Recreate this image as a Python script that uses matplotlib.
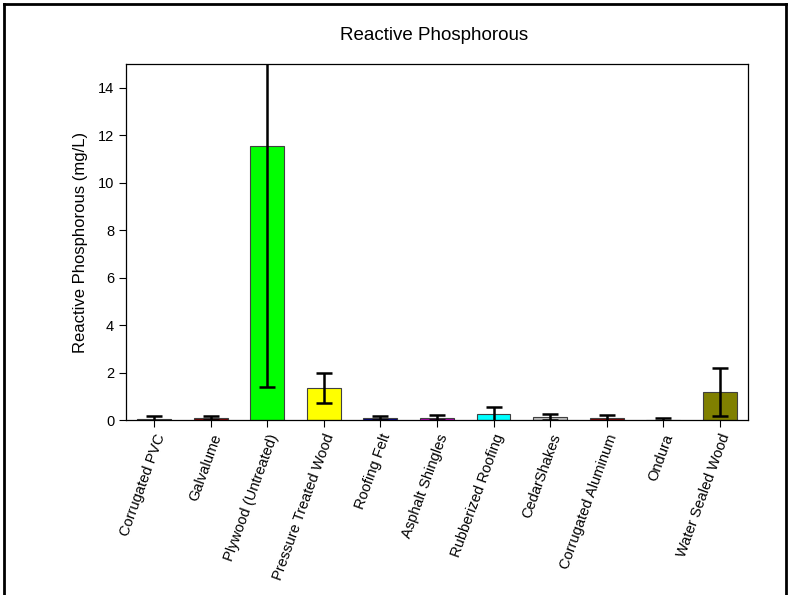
import numpy as np
import matplotlib.pyplot as plt
from matplotlib.lines import Line2D

plt.rcParams['font.family'] = ['Liberation Sans', 'DejaVu Sans']

materials = ["Corrugated PVC", "Galvalume", "Plywood (Untreated)", "Pressure Treated Wood",
             "Roofing Felt", "Asphalt Shingles", "Rubberized Roofing", "CedarShakes",
             "Corrugated Aluminum", "Ondura", "Water Sealed Wood"]
mean_p = [0.04, 0.08, 11.55, 1.35, 0.07, 0.10, 0.25, 0.14, 0.07, 0.02, 1.19]
sd_p = [0.11, 0.07, 10.15, 0.62, 0.08, 0.10, 0.31, 0.13, 0.13, 0.05, 1.00]
bar_colors = ["#000000", "#800000", "#00ff00", "#ffff00", "#000080", "#c000c0",
              "#00ffff", "#c0c0c0", "#800000", "#000000", "#808000"]

fig = plt.figure(figsize=(7.9, 5.95), dpi=100)
ax = fig.add_axes([0.1595, 0.2941, 0.7873, 0.5983])

x = np.arange(len(materials))
ax.bar(x, mean_p, width=0.6, color=bar_colors, edgecolor='#404040', linewidth=0.8, zorder=2)
ax.errorbar(x, mean_p, yerr=sd_p, fmt='none', ecolor='black', elinewidth=1.8,
            capsize=6, capthick=1.8, zorder=3)

ax.set_xlim(-0.5, len(materials) - 0.5)
ax.set_ylim(0, 15)
ax.set_yticks(np.arange(0, 15, 2))
ax.set_xticks(x)
ax.set_xticklabels(materials, rotation=70, ha='right', rotation_mode='anchor', fontsize=10.5)
ax.tick_params(axis='both', direction='out', length=5, width=0.8, labelsize=10.5)
ax.set_ylabel("Reactive Phosphorous (mg/L)", fontsize=12, labelpad=7)
for s in ax.spines.values():
    s.set_linewidth(0.9)

fig.text(0.549, 0.94, "Reactive Phosphorous", ha='center', va='center', fontsize=13.5)

# frame around the figure (left, top, right)
fig.add_artist(Line2D([0.005, 0.005], [0, 0.994], color='black', linewidth=2))
fig.add_artist(Line2D([0.005, 0.995], [0.994, 0.994], color='black', linewidth=2))
fig.add_artist(Line2D([0.995, 0.995], [0, 0.994], color='black', linewidth=2))

fig.savefig('out.png', dpi=100)
